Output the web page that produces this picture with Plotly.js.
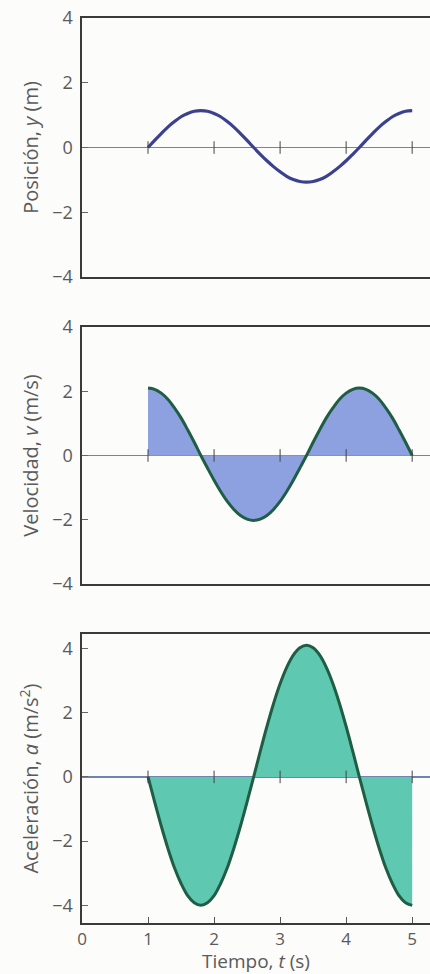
<!DOCTYPE html>
<html>
<head>
<meta charset="utf-8">
<script src="https://cdn.plot.ly/plotly-3.0.1.min.js"></script>
<style>
html,body{margin:0;padding:0;background:#fcfcfa;overflow:hidden;}
#chart{width:430px;height:974px;}
</style>
</head>
<body>
<div id="chart"></div>
<script>
// Time samples (s)
const tiempo = [1.0,1.1,1.2,1.3,1.4,1.5,1.6,1.7,1.8,1.9,2.0,2.1,2.2,2.3,2.4,2.5,2.6,2.7,2.8,2.9,3.0,3.1,3.2,3.3,3.4,3.5,3.6,3.7,3.8,3.9,4.0,4.1,4.2,4.3,4.4,4.5,4.6,4.7,4.8,4.9,5.0];
// Position y (m)
const posicion = [0,0.22,0.43,0.63,0.80,0.95,1.05,1.12,1.14,1.12,1.05,0.95,0.80,0.63,0.43,0.22,0,-0.21,-0.41,-0.59,-0.75,-0.89,-0.99,-1.05,-1.07,-1.05,-0.99,-0.89,-0.75,-0.59,-0.41,-0.21,0,0.22,0.43,0.63,0.80,0.95,1.05,1.12,1.14];
// Velocity v (m/s)
const velocidad = [2.10,2.06,1.94,1.75,1.48,1.17,0.80,0.41,0,-0.39,-0.77,-1.12,-1.43,-1.68,-1.87,-1.98,-2.02,-1.98,-1.87,-1.68,-1.43,-1.12,-0.77,-0.39,0,0.41,0.80,1.17,1.48,1.75,1.94,2.06,2.10,2.06,1.94,1.75,1.48,1.17,0.80,0.41,0];
// Acceleration a (m/s^2)
const aceleracion = [0,-0.78,-1.53,-2.22,-2.83,-3.32,-3.70,-3.92,-4.00,-3.92,-3.70,-3.32,-2.83,-2.22,-1.53,-0.78,0,0.80,1.57,2.28,2.90,3.41,3.79,4.02,4.10,4.02,3.79,3.41,2.90,2.28,1.57,0.80,0,-0.78,-1.53,-2.22,-2.83,-3.32,-3.70,-3.92,-4.00];
// Tick values
const xTicks = [0,1,2,3,4,5];
const zeroTicks = [1,2,3,4,5];
const yTicks = [-4,-2,0,2,4];
const yTitles = ['Posición, <i>y</i> (m)','Velocidad, <i>v</i> (m/s)','Aceleración, <i>a</i> (m/s<sup>2</sup>)'];
const xTitle = 'Tiempo, <i>t</i> (s)';

const FONT = 'Open Sans, Noto Sans, sans-serif';
const TXT = '#5a5a5a';
const FRAME = '#3a3a3a';
const GREEN = '#1f5d44';

const traces = [
  {x: tiempo, y: posicion, xaxis:'x', yaxis:'y', mode:'lines', line:{color:'#3b418e', width:3.2, shape:'spline'}, hoverinfo:'skip'},
  {x: tiempo, y: velocidad, xaxis:'x2', yaxis:'y2', mode:'lines', fill:'tozeroy', fillcolor:'#8da0e0', line:{color:GREEN, width:3, shape:'spline'}, hoverinfo:'skip'},
  {x: tiempo, y: aceleracion, xaxis:'x3', yaxis:'y3', mode:'lines', fill:'tozeroy', fillcolor:'#5fc8b0', line:{color:GREEN, width:3, shape:'spline'}, hoverinfo:'skip'}
];
['x','x2','x3'].forEach((xa,i)=>{
  traces.push({x: zeroTicks, y: zeroTicks.map(()=>0), xaxis: xa, yaxis: ['y','y2','y3'][i], mode:'markers',
    marker:{symbol:'line-ns-open', size:9, color:'#444', line:{color:'#444', width:1}}, hoverinfo:'skip'});
});

function xax(showLabels){
  return {
    range:[0,5.27], showgrid:false, zeroline:false, showline:true, mirror:true, linecolor:FRAME, linewidth:1.6,
    ticks: showLabels ? 'inside' : '', ticklen:6, tickcolor:'#555', tickvals:xTicks, showticklabels:showLabels,
    tickfont:{family:FONT, size:17, color:TXT}, fixedrange:true
  };
}
function yax(dom, rng, title, xa){
  return {
    domain:dom, range:rng, anchor:xa, showgrid:false, zeroline:true, zerolinecolor:'#7183b0', zerolinewidth:1.2,
    showline:true, mirror:false, linecolor:FRAME, linewidth:1.6,
    ticks:'inside', ticklen:6, tickcolor:'#666', tickvals:yTicks, ticklabelstandoff:4,
    tickfont:{family:FONT, size:18, color:TXT},
    title:{text:title, font:{family:FONT, size:20, color:TXT}, standoff:8}, fixedrange:true
  };
}

const layout = {
  width:430, height:974,
  margin:{l:82, r:0, t:18, b:51},
  paper_bgcolor:'#fcfcfa', plot_bgcolor:'#fcfcfa',
  showlegend:false,
  xaxis: Object.assign(xax(false), {anchor:'y'}),
  xaxis2: Object.assign(xax(false), {anchor:'y2'}),
  xaxis3: Object.assign(xax(true), {anchor:'y3', ticklabelstandoff:0, title:{text:xTitle, font:{family:FONT, size:19, color:TXT}, standoff:4}}),
  yaxis: yax([0.7138,1], [-4,4], yTitles[0], 'x'),
  yaxis2: yax([0.3746,0.6586], [-4,4], yTitles[1], 'x2'),
  yaxis3: yax([0,0.3193], [-4.55,4.45], yTitles[2], 'x3')
};

Plotly.newPlot('chart', traces, layout, {displayModeBar:false, staticPlot:true});
</script>
</body>
</html>
